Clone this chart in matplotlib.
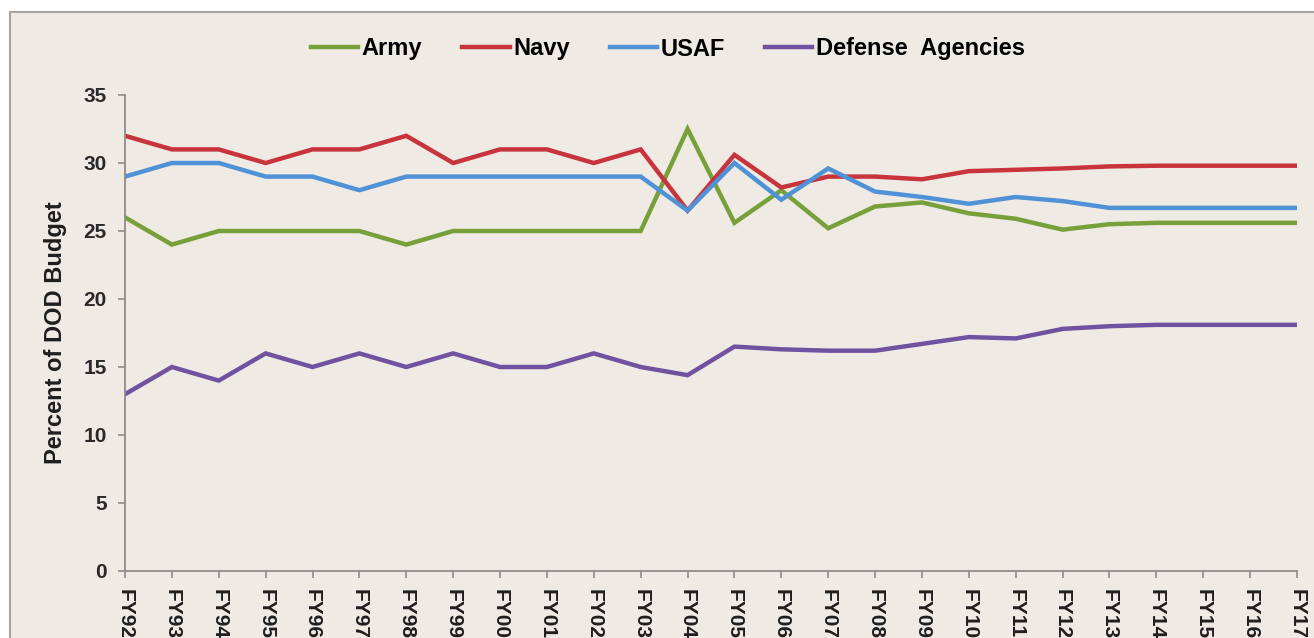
import matplotlib
matplotlib.use("Agg")
import matplotlib.pyplot as plt
from matplotlib.patches import Rectangle

plt.rcParams["font.family"] = ["Liberation Sans", "DejaVu Sans"]

YEARS = ["FY92", "FY93", "FY94", "FY95", "FY96", "FY97", "FY98", "FY99", "FY00",
         "FY01", "FY02", "FY03", "FY04", "FY05", "FY06", "FY07", "FY08", "FY09",
         "FY10", "FY11", "FY12", "FY13", "FY14", "FY15", "FY16", "FY17"]

ARMY = [26, 24, 25, 25, 25, 25, 24, 25, 25, 25, 25, 25, 32.5, 25.6, 28.0, 25.2,
        26.8, 27.1, 26.3, 25.9, 25.1, 25.5, 25.6, 25.6, 25.6, 25.6]
NAVY = [32, 31, 31, 30, 31, 31, 32, 30, 31, 31, 30, 31, 26.5, 30.6, 28.2, 29.0,
        29.0, 28.8, 29.4, 29.5, 29.6, 29.75, 29.8, 29.8, 29.8, 29.8]
USAF = [29, 30, 30, 29, 29, 28, 29, 29, 29, 29, 29, 29, 26.5, 30.0, 27.3, 29.6,
        27.9, 27.5, 27.0, 27.5, 27.2, 26.7, 26.7, 26.7, 26.7, 26.7]
AGENCIES = [13, 15, 14, 16, 15, 16, 15, 16, 15, 15, 16, 15, 14.4, 16.5, 16.3, 16.2,
            16.2, 16.7, 17.2, 17.1, 17.8, 18.0, 18.1, 18.1, 18.1, 18.1]

SERIES = [
    ("Army", ARMY, "#77A03A"),
    ("Navy", NAVY, "#C8343C"),
    ("USAF", USAF, "#4F92D6"),
    ("Defense  Agencies", AGENCIES, "#7152A0"),
]

BG = "#EFEBE4"
TEXT = "#1E1E1E"
AXIS = "#8C8C8C"


def main():
    fig = plt.figure(figsize=(13.14, 6.38), dpi=100)
    fig.patch.set_facecolor("white")

    # chart frame (runs off the right and bottom edges like the reference)
    frame = Rectangle((10 / 1314, -0.05), 1.1, 1.05 - 12 / 638,
                      transform=fig.transFigure, facecolor=BG,
                      edgecolor="#A8A49E", linewidth=1.5, zorder=-5)
    fig.patches.append(frame)

    ax = fig.add_axes([125 / 1314, (638 - 571) / 638, 1172 / 1314, 476 / 638])
    ax.set_facecolor("none")

    x = list(range(len(YEARS)))
    for name, values, color in SERIES:
        ax.plot(x, values, color=color, linewidth=3.2, label=name, solid_joinstyle="miter")

    ax.set_xlim(0, len(YEARS) - 1)
    ax.set_ylim(0, 35)
    ax.set_yticks(range(0, 36, 5))
    ax.set_xticks(x)
    ax.set_xticklabels(YEARS, rotation=-90, fontsize=15, fontweight="bold",
                       color=TEXT, va="top", ha="center")
    for lab in ax.get_yticklabels():
        lab.set_fontsize(15)
        lab.set_fontweight("bold")
        lab.set_color("#2A2A2A")

    for side in ("top", "right"):
        ax.spines[side].set_visible(False)
    for side in ("left", "bottom"):
        ax.spines[side].set_color(AXIS)
        ax.spines[side].set_linewidth(1.3)
    ax.tick_params(axis="both", direction="out", length=5, width=1.2, color=AXIS)
    ax.tick_params(axis="y", pad=8)
    ax.tick_params(axis="x", pad=8)

    ax.set_ylabel("Percent of DOD Budget", fontsize=17, fontweight="bold", color=TEXT)
    ax.yaxis.set_label_coords(-58 / 1172, 0.5)

    fig.legend(loc="center", bbox_to_anchor=(668 / 1314, 1 - 49 / 638), ncol=4,
               frameon=False, prop={"size": 17, "weight": "bold"},
               handlelength=2.0, handletextpad=0.15, columnspacing=1.7)

    fig.savefig("out.png", dpi=100, facecolor=fig.get_facecolor())


if __name__ == "__main__":
    main()
